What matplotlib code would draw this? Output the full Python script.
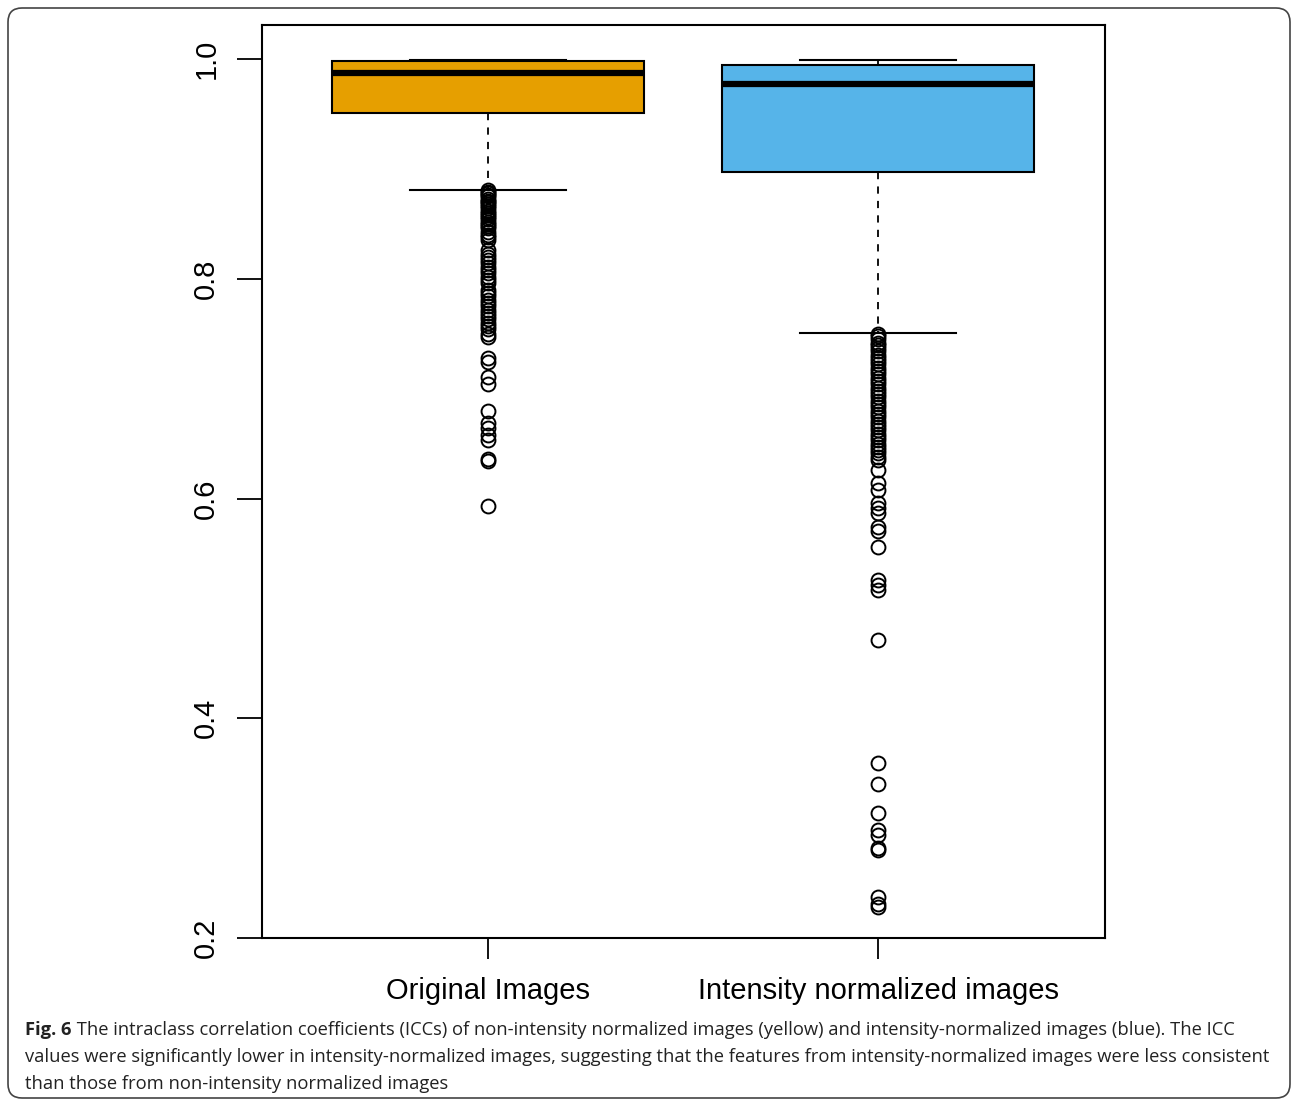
import matplotlib
matplotlib.use("Agg")
import matplotlib.pyplot as plt
from matplotlib.patches import FancyBboxPatch
from matplotlib.transforms import IdentityTransform

# ---------------- data ----------------
categories = ["Original Images", "Intensity normalized images"]
box_colors = ["#E69F00", "#56B4E9"]

whisker_low = [0.881, 0.7505]
q1 = [0.951, 0.897]
median = [0.987, 0.977]
q3 = [0.998, 0.9945]
whisker_high = [0.9995, 0.9995]

outliers_original = [
    0.881, 0.879, 0.878, 0.876, 0.875, 0.873, 0.871, 0.870, 0.868, 0.866,
    0.864, 0.862, 0.860, 0.858, 0.856, 0.854, 0.852, 0.850, 0.848, 0.846,
    0.843, 0.840, 0.838, 0.835, 0.826, 0.823, 0.820, 0.817, 0.814, 0.811,
    0.808, 0.805, 0.802, 0.799, 0.796, 0.790, 0.787, 0.784, 0.781, 0.778,
    0.775, 0.772, 0.769, 0.766, 0.763, 0.760, 0.757, 0.754, 0.750, 0.747,
    0.728, 0.724, 0.711, 0.704, 0.680, 0.669, 0.664, 0.658, 0.653, 0.636,
    0.634, 0.593,
]
outliers_normalized = [
    0.750, 0.748, 0.745, 0.742, 0.740, 0.737, 0.734, 0.731, 0.728, 0.725,
    0.722, 0.719, 0.716, 0.713, 0.710, 0.707, 0.704, 0.701, 0.698, 0.695,
    0.692, 0.689, 0.686, 0.683, 0.680, 0.677, 0.674, 0.671, 0.668, 0.665,
    0.662, 0.659, 0.656, 0.653, 0.650, 0.647, 0.644, 0.641, 0.638, 0.635,
    0.626, 0.614, 0.608, 0.596, 0.591, 0.587, 0.574, 0.570, 0.556, 0.526,
    0.521, 0.517, 0.471, 0.359, 0.340, 0.314, 0.298, 0.294, 0.282, 0.280,
    0.237, 0.231, 0.228,
]
outliers = [outliers_original, outliers_normalized]

yticks = [0.2, 0.4, 0.6, 0.8, 1.0]
ytick_labels = ["0.2", "0.4", "0.6", "0.8", "1.0"]

caption_bold = "Fig. 6"
caption_lines = [
    " The intraclass correlation coefficients (ICCs) of non-intensity normalized images (yellow) and intensity-normalized images (blue). The ICC",
    "values were significantly lower in intensity-normalized images, suggesting that the features from intensity-normalized images were less consistent",
    "than those from non-intensity normalized images",
]

# ---------------- figure ----------------
W, H = 1293, 1101
fig = plt.figure(figsize=(W / 100, H / 100), dpi=100)
fig.patch.set_facecolor("white")

ax = fig.add_axes([262 / W, 1 - 938 / H, 843 / W, 913 / H])

stats = []
for i in range(len(categories)):
    stats.append(dict(label=categories[i], whislo=whisker_low[i], q1=q1[i],
                      med=median[i], q3=q3[i], whishi=whisker_high[i],
                      fliers=outliers[i]))

bp = ax.bxp(stats, positions=[1, 2], widths=0.8, patch_artist=True,
            showfliers=True,
            boxprops=dict(linewidth=1.5, edgecolor="black"),
            medianprops=dict(color="black", linewidth=4.5, solid_capstyle="butt"),
            whiskerprops=dict(color="black", linewidth=1.3, linestyle=(0, (4, 4))),
            capprops=dict(color="black", linewidth=1.5),
            flierprops=dict(marker="o", markerfacecolor="none",
                            markeredgecolor="black", markersize=10,
                            markeredgewidth=1.4, linestyle="none"))
for patch, c in zip(bp["boxes"], box_colors):
    patch.set_facecolor(c)
for cap in bp["caps"]:
    x0, x1 = cap.get_xdata()
    xm = (x0 + x1) / 2
    cap.set_xdata([xm - 0.2, xm + 0.2])

ax.set_xlim(0.42, 2.582)
ax.set_ylim(0.2, 1.031)

ax.set_yticks(yticks)
ax.set_yticklabels(ytick_labels, rotation=90, va="center",
                   fontsize=21, fontfamily="Liberation Sans")
ax.set_xticks([1, 2])
ax.set_xticklabels(categories, fontsize=21, fontfamily="Liberation Sans")
ax.tick_params(axis="y", length=18, width=1.3, pad=12)
ax.tick_params(axis="x", length=15, width=1.3, pad=13)
for s in ax.spines.values():
    s.set_linewidth(1.5)

# Border around figure (pixel coords)
border = FancyBboxPatch((8, H - 1098), 1282, 1090,
                        boxstyle="round,pad=0,rounding_size=14",
                        transform=IdentityTransform(), facecolor="none",
                        edgecolor="#444444", linewidth=1.2)
border.set_figure(fig)
fig.patches.append(border)

# Caption
cap_font = "Open Sans"
fs = 13.25
y1 = 1 - 1030 / H
t = fig.text(25 / W, y1, caption_bold, fontsize=fs, fontweight="bold",
             fontfamily=cap_font, va="center", ha="left", color="#222222")
fig.canvas.draw()
bb = t.get_window_extent(fig.canvas.get_renderer())
fig.text(bb.x1 / W, y1, caption_lines[0], fontsize=fs, fontfamily=cap_font,
         va="center", ha="left", color="#222222")
fig.text(25 / W, 1 - 1057 / H, caption_lines[1], fontsize=fs,
         fontfamily=cap_font, va="center", ha="left", color="#222222")
fig.text(25 / W, 1 - 1084 / H, caption_lines[2], fontsize=fs,
         fontfamily=cap_font, va="center", ha="left", color="#222222")

fig.savefig("out.png", dpi=100, facecolor="white")
